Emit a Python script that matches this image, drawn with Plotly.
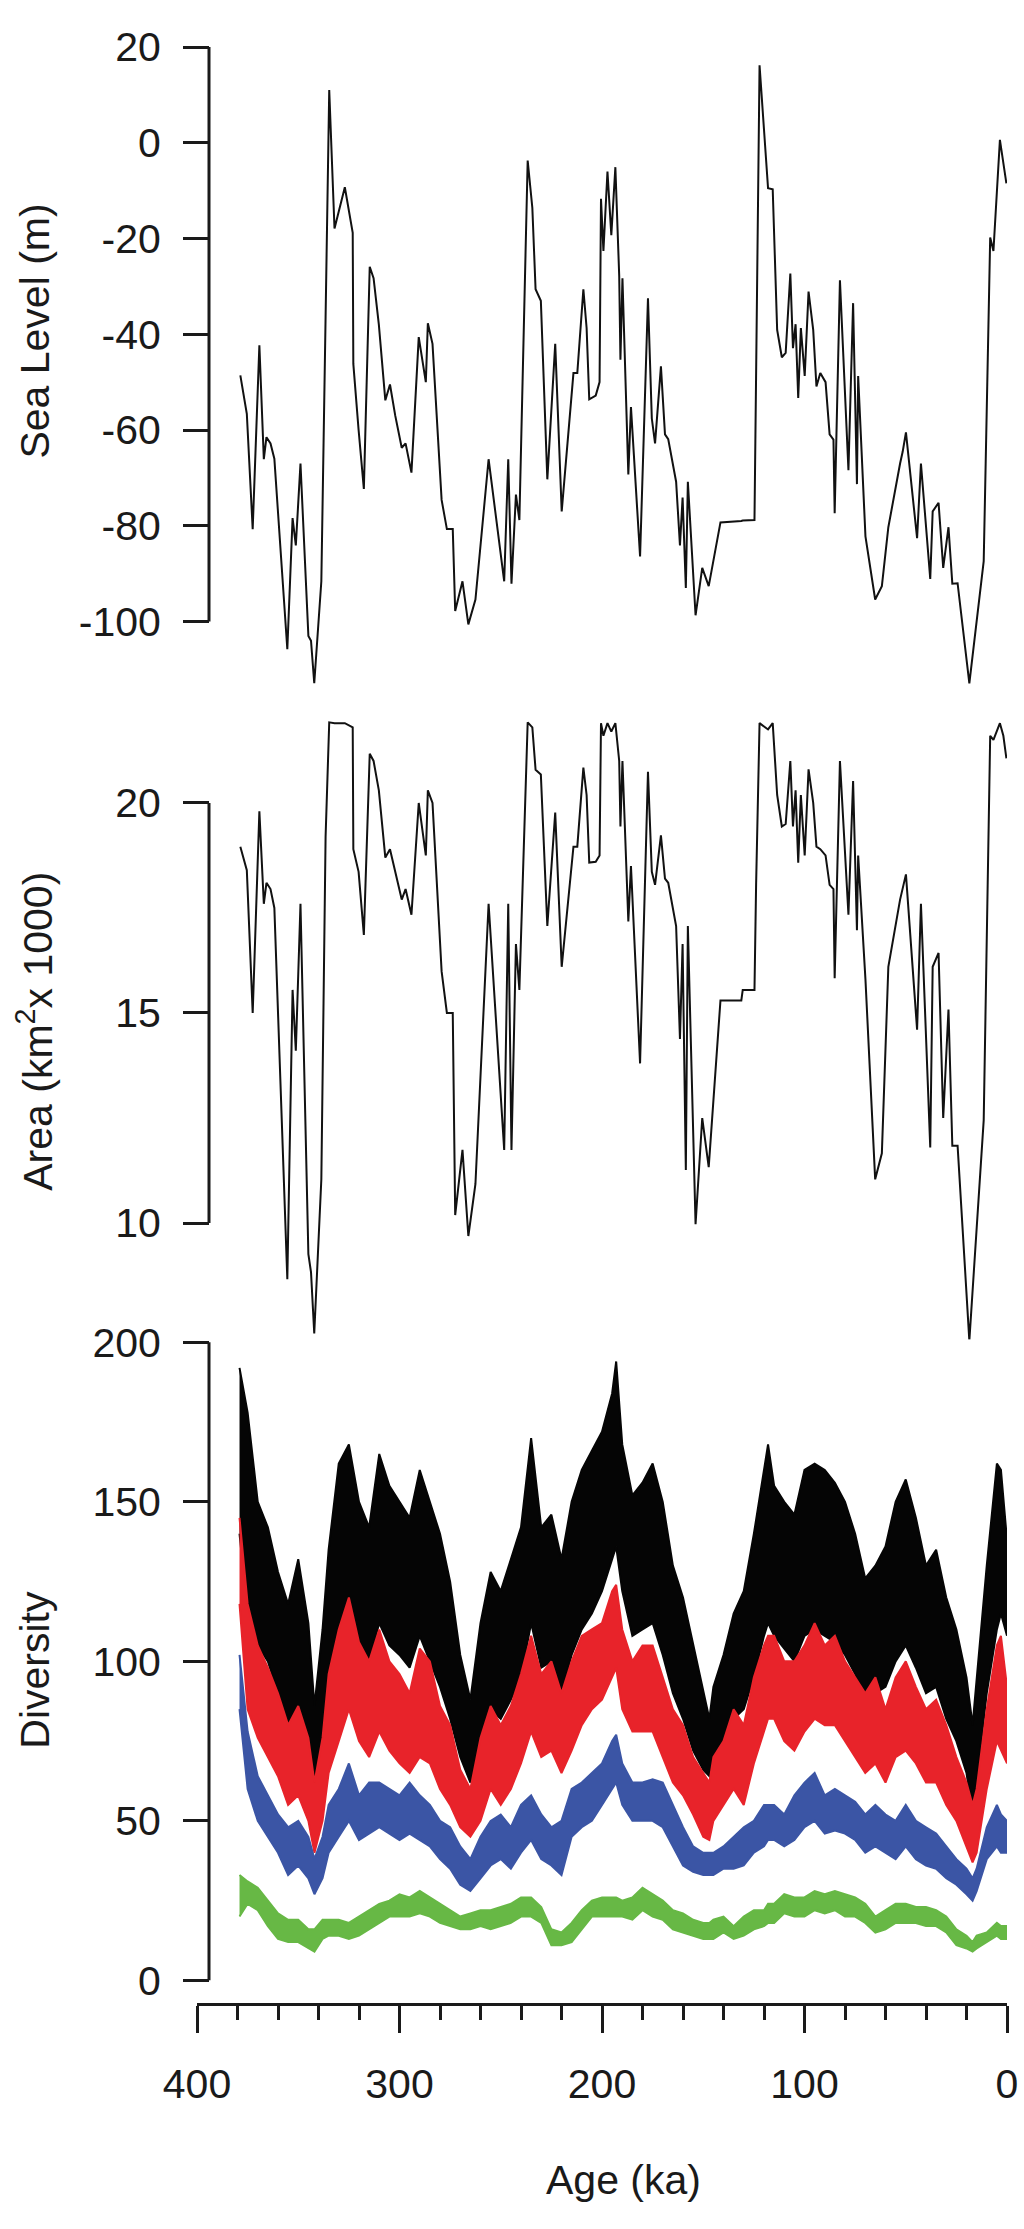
import plotly.graph_objects as go

# ---------------- data ----------------
age_sl = [378.6, 375.4, 372.5, 369.2, 367.0, 365.7, 363.7, 361.8, 355.4, 352.8, 351.2, 348.9,
          345.0, 343.7, 342.1, 338.6, 336.5, 334.7, 332.1, 327.0, 323.1, 322.8, 320.2, 317.6,
          314.7, 312.8, 310.2, 307.0, 304.7, 302.1, 298.9, 297.0, 294.1, 290.5, 287.0, 286.0,
          283.7, 279.2, 276.6, 273.7, 272.5, 268.9, 266.0, 262.5, 256.0, 248.3, 246.3, 244.7,
          242.5, 240.8, 236.7, 234.4, 232.8, 230.2, 227.0, 223.1, 219.9, 214.1, 212.2, 209.2,
          207.6, 206.3, 203.1, 201.2, 200.5, 199.3, 197.3, 195.4, 193.4, 191.5, 190.9, 189.9,
          187.0, 185.7, 181.2, 177.3, 175.4, 173.8, 170.9, 168.9, 167.3, 163.4, 161.5, 160.2,
          158.6, 157.6, 153.8, 150.5, 147.3, 141.5, 131.2, 130.5, 124.7, 123.9, 122.2, 118.0,
          115.7, 113.5, 111.2, 109.3, 107.0, 105.7, 104.4, 103.1, 101.8, 99.9, 98.0, 95.7,
          94.1, 92.2, 89.6, 87.6, 85.7, 85.1, 82.5, 78.3, 76.0, 74.1, 73.5, 69.9, 65.1, 61.8,
          58.6, 52.8, 51.5, 49.9, 44.4, 42.5, 37.9, 36.7, 33.8, 31.5, 28.9, 27.0, 24.4, 18.6,
          11.5, 8.3, 6.7, 3.5, 1.8, 0.3]

sea_level = [-48.6, -56.6, -80.7, -42.3, -66.1, -61.5, -62.8, -66.0, -105.8, -78.4, -84.1, -67.0,
             -103.0, -104.0, -112.9, -91.6, -36.4, 11.0, -17.9, -9.3, -18.8, -46.2, -60.0, -72.3,
             -25.9, -28.3, -38.0, -53.8, -50.5, -57.0, -63.7, -62.8, -68.9, -40.6, -50.0, -37.7,
             -42.0, -74.6, -80.7, -80.7, -97.8, -91.6, -100.6, -95.4, -66.1, -91.6, -66.1, -92.1,
             -73.5, -78.8, -3.7, -13.6, -30.6, -33.0, -70.3, -42.0, -77.0, -48.1, -48.1, -30.6,
             -38.7, -53.6, -52.8, -50.0, -11.7, -22.6, -6.0, -19.3, -5.1, -27.8, -45.3, -28.3,
             -69.3, -55.2, -86.4, -32.5, -57.6, -62.8, -46.7, -60.9, -61.9, -70.8, -84.1, -74.1,
             -93.0, -70.8, -98.7, -88.8, -92.6, -79.3, -79.0, -78.9, -78.8, -48.0, 16.2, -9.5,
             -9.7, -39.1, -44.8, -43.9, -27.3, -42.9, -37.9, -53.3, -38.7, -48.7, -31.1, -39.1,
             -50.9, -48.1, -50.0, -60.9, -62.0, -77.4, -28.7, -68.4, -33.5, -71.3, -48.7, -82.2,
             -95.4, -92.6, -80.3, -67.0, -64.5, -60.5, -82.6, -67.0, -91.1, -77.0, -75.2, -88.8,
             -80.3, -92.1, -92.0, -112.9, -87.4, -19.8, -22.6, 0.6, -4.6, -8.5]

area = [18.96, 18.4, 15.0, 19.8, 17.6, 18.1, 17.95, 17.5, 8.66, 15.55, 14.1, 17.6,
        9.26, 8.83, 7.37, 11.04, 19.2, 21.92, 21.9, 21.9, 21.8, 18.9, 18.36, 16.86,
        21.17, 21.0, 20.3, 18.7, 18.9, 18.36, 17.7, 17.95, 17.34, 20.0, 18.75, 20.3,
        20.0, 15.99, 15.0, 15.0, 10.19, 11.74, 9.69, 10.93, 17.6, 11.74, 17.6, 11.74,
        16.64, 15.55, 21.92, 21.8, 20.79, 20.68, 17.07, 19.77, 16.1, 18.96, 18.96, 20.84,
        20.19, 18.58, 18.6, 18.75, 21.9, 21.6, 21.9, 21.7, 21.9, 21.0, 19.44, 21.0,
        17.18, 18.5, 13.8, 20.74, 18.36, 18.05, 19.23, 18.2, 18.1, 17.07, 14.38, 16.64,
        11.26, 17.07, 9.97, 12.5, 11.33, 15.3, 15.3, 15.55, 15.55, 18.05, 21.9, 21.75,
        21.9, 20.19, 19.44, 19.5, 21.0, 19.44, 20.3, 18.58, 20.19, 18.75, 20.8, 20.0,
        18.96, 18.9, 18.75, 18.05, 17.95, 15.83, 21.0, 17.34, 20.52, 16.97, 18.75, 15.8,
        11.04, 11.66, 16.1, 17.7, 17.95, 18.3, 14.6, 17.6, 11.8, 16.1, 16.43, 12.5,
        15.08, 11.84, 11.84, 7.2, 12.45, 21.6, 21.5, 21.9, 21.6, 21.06]

div_age = [379, 375, 370, 365, 360, 355, 350, 345, 342, 338,
           335, 330, 325, 320, 315, 310, 305, 300, 295, 290,
           285, 280, 275, 270, 265, 260, 255, 250, 245, 240,
           235, 230, 225, 220, 215, 210, 205, 200, 195, 193,
           190, 185, 180, 175, 170, 165, 160, 155, 150, 147,
           145, 140, 135, 130, 125, 120, 118, 115, 110, 105,
           100, 95, 90, 85, 80, 75, 70, 65, 60, 55,
           50, 45, 40, 35, 30, 25, 20, 17, 15, 10,
           5, 3, 0]

black_hi = [192, 178, 150, 142, 128, 118, 132, 112, 86, 110,
            135, 162, 168, 150, 142, 165, 155, 150, 145, 160,
            150, 140, 125, 102, 88, 112, 128, 122, 132, 142,
            170, 142, 146, 132, 150, 160, 166, 172, 184, 194,
            168, 152, 156, 162, 150, 130, 120, 105, 90, 82,
            92, 102, 115, 122, 140, 160, 168, 155, 150, 146,
            160, 162, 160, 156, 150, 140, 126, 130, 136, 150,
            157, 145, 130, 135, 120, 110, 95, 80, 95, 130,
            162, 160, 138]
black_lo = [140, 115, 105, 100, 90, 78, 85, 72, 58, 70,
            95, 110, 115, 105, 100, 112, 105, 102, 98, 108,
            100, 92, 82, 70, 62, 75, 85, 82, 88, 95,
            112, 98, 100, 90, 102, 110, 115, 122, 132, 136,
            122, 108, 110, 112, 102, 90, 82, 72, 66, 64,
            68, 72, 82, 85, 95, 108, 112, 108, 104, 100,
            108, 110, 108, 106, 102, 96, 88, 90, 92, 100,
            105, 98, 90, 92, 82, 75, 65, 52, 62, 90,
            110, 115, 108]
red_hi = [145, 118, 105, 98, 90, 80, 86, 76, 62, 76,
          96, 110, 120, 106, 100, 110, 100, 96, 90, 104,
          100, 86, 80, 66, 60, 76, 86, 80, 86, 96,
          108, 96, 100, 90, 100, 108, 110, 112, 122, 124,
          110, 100, 105, 105, 95, 85, 80, 70, 65, 62,
          70, 75, 85, 80, 95, 105, 108, 108, 100, 100,
          105, 112, 105, 108, 100, 95, 90, 95, 85, 95,
          100, 92, 85, 88, 80, 70, 62, 55, 60, 85,
          105, 108, 92]
red_lo = [118, 85, 76, 70, 64, 55, 58, 50, 40, 50,
          65, 75, 85, 75, 70, 78, 72, 68, 65, 70,
          68, 60, 55, 48, 45, 50, 60, 55, 60, 68,
          78, 70, 72, 65, 72, 80, 85, 88, 95, 98,
          85, 78, 78, 78, 70, 62, 58, 52, 45, 44,
          50, 55, 60, 55, 68, 78, 82, 82, 75, 72,
          78, 82, 80, 80, 75, 70, 65, 68, 62, 70,
          72, 68, 62, 62, 55, 50, 42, 37, 40, 60,
          75, 72, 68]
blue_hi = [102, 78, 64, 58, 52, 48, 50, 45, 38, 45,
           55, 60, 68, 58, 62, 62, 60, 58, 62, 58,
           55, 50, 48, 42, 38, 45, 50, 52, 48, 55,
           58, 52, 48, 50, 60, 62, 65, 68, 75, 77,
           68, 62, 62, 63, 62, 55, 48, 42, 40, 40,
           40, 42, 45, 48, 50, 55, 55, 55, 52, 58,
           62, 65, 58, 60, 58, 56, 52, 55, 52, 50,
           55, 50, 48, 46, 42, 38, 35, 32, 35, 48,
           55, 52, 50]
blue_lo = [85, 60, 50, 45, 40, 33, 36, 32, 27, 32,
           40, 45, 50, 44, 46, 48, 46, 44, 46, 44,
           42, 38, 35, 30, 28, 32, 36, 38, 35, 40,
           44, 38, 36, 33, 45, 48, 50, 55, 60, 62,
           55, 50, 50, 50, 48, 42, 36, 34, 33, 33,
           33, 35, 35, 36, 40, 42, 44, 44, 42, 44,
           48, 50, 46, 47, 46, 44, 40, 42, 40, 38,
           42, 38, 36, 35, 32, 30, 27, 25, 28, 38,
           42, 40, 40]
green_hi = [33, 31, 29, 25, 21, 19, 19, 16, 16, 19,
            19, 19, 18, 20, 22, 24, 25, 27, 26, 28,
            26, 24, 22, 20, 21, 22, 22, 23, 24, 26,
            26, 23, 16, 15, 18, 22, 25, 26, 26, 26,
            25, 26, 29, 27, 25, 22, 21, 19, 18, 18,
            19, 20, 17, 20, 22, 22, 24, 24, 27, 26,
            26, 28, 27, 28, 27, 26, 24, 20, 22, 24,
            24, 23, 23, 22, 20, 16, 14, 12, 14, 15,
            18, 17, 17]
green_lo = [20, 24, 22, 17, 13, 12, 12, 10, 9, 13,
            14, 14, 13, 14, 16, 18, 20, 20, 20, 21,
            20, 18, 17, 16, 16, 17, 16, 17, 18, 20,
            20, 18, 11, 11, 12, 16, 20, 20, 20, 20,
            20, 19, 22, 20, 19, 16, 15, 14, 13, 13,
            13, 15, 13, 14, 16, 17, 18, 18, 21, 20,
            20, 22, 21, 22, 20, 20, 18, 15, 16, 18,
            18, 18, 17, 17, 15, 11, 10, 9, 10, 12,
            14, 13, 13]

x_ticks = [400, 300, 200, 100, 0]
sl_ticks = [-100, -80, -60, -40, -20, 0, 20]
sl_ticktext = ["-100", "-80", "-60", "-40", "-20", "0", "20"]
area_ticks = [10, 15, 20]
div_ticks = [0, 50, 100, 150, 200]

# ---------------- layout helpers ----------------
W, H = 1024, 2229
L, R = 197, 17
FONT = "Liberation Sans, Arial, Helvetica, sans-serif"
FS = 41
TXT = "#1a1a1a"


def py(px):
    return 1 - px / H


def yrange(v1, p1, v2, p2, top_px, bot_px):
    k = (v1 - v2) / (p2 - p1)
    return [v2 - (bot_px - p2) * k, v1 + (p1 - top_px) * k]


axis_x = (209 - L) / (W - L - R)

fig = go.Figure()

fig.add_trace(go.Scatter(x=age_sl, y=sea_level, mode="lines", xaxis="x", yaxis="y",
                         line=dict(color="#111111", width=2), showlegend=False))
fig.add_trace(go.Scatter(x=age_sl, y=area, mode="lines", xaxis="x", yaxis="y2",
                         line=dict(color="#111111", width=2), showlegend=False))

bands = [(black_lo, black_hi, "#050505"), (red_lo, red_hi, "#e8232a"),
         (blue_lo, blue_hi, "#3b55a5"), (green_lo, green_hi, "#67b845")]
for lo, hi, col in bands:
    fig.add_trace(go.Scatter(x=div_age, y=lo, mode="lines", xaxis="x", yaxis="y3",
                             line=dict(color=col, width=2), showlegend=False))
    fig.add_trace(go.Scatter(x=div_age, y=hi, mode="lines", xaxis="x", yaxis="y3",
                             line=dict(color=col, width=2), fill="tonexty",
                             fillcolor=col, showlegend=False))

yax_common = dict(anchor="free", position=axis_x, showline=False, showgrid=False,
                  zeroline=False, ticks="outside", ticklen=26, tickwidth=3,
                  tickcolor=TXT, tickfont=dict(family=FONT, size=FS, color=TXT),
                  ticklabelstandoff=14, ticklabeloverflow="allow")

fig.update_layout(
    width=W, height=H,
    margin=dict(l=L, r=R, t=0, b=0),
    paper_bgcolor="white", plot_bgcolor="white",
    showlegend=False,
    xaxis=dict(domain=[0, 1], range=[400, 0], anchor="free", position=py(2012),
               showline=True, linewidth=3, linecolor=TXT, showgrid=False, zeroline=False,
               tickvals=x_ticks, ticks="outside", ticklen=27, tickwidth=3, tickcolor=TXT,
               tickfont=dict(family=FONT, size=FS, color=TXT), ticklabelstandoff=16,
               ticklabeloverflow="allow",
               minor=dict(dtick=20, ticks="outside", ticklen=14, tickwidth=2.5,
                          tickcolor=TXT, showgrid=False)),
    yaxis=dict(domain=[py(690), py(10)], range=yrange(20, 27.4, -100, 610, 10, 690),
               tickvals=sl_ticks, ticktext=sl_ticktext, **yax_common),
    yaxis2=dict(domain=[py(1340), py(700)], range=yrange(20, 794, 10, 1220, 700, 1340),
                tickvals=area_ticks, **yax_common),
    yaxis3=dict(domain=[py(2000), py(1338)], range=yrange(200, 1341, 0, 1988, 1338, 2000),
                tickvals=div_ticks, **yax_common),
)

# axis lines spanning only the labelled range (base-R style)
for yref, lo, hi in [("y", -100, 20), ("y2", 10, 20), ("y3", 0, 200)]:
    fig.add_shape(type="line", xref="paper", yref=yref, x0=axis_x, x1=axis_x, y0=lo, y1=hi,
                  line=dict(color=TXT, width=3))


def px_x(px):
    return (px - L) / (W - L - R)


labels = [("Sea Level (m)", 35, 316, -90), ("Area (km<sup>2</sup>x 1000)", 35, 1026, -90),
          ("Diversity", 35, 1673, -90), ("Age (ka)", 623, 2190, 0)]
for text, xp, ypx, ang in labels:
    fig.add_annotation(text=text, xref="paper", yref="paper", x=px_x(xp), y=py(ypx),
                       xanchor="center", yanchor="middle", showarrow=False, textangle=ang,
                       font=dict(family=FONT, size=FS, color=TXT))

fig.write_html("out.html",
               config={"displayModeBar": False},
               post_script="document.body.style.margin='0';"
                           "document.body.style.overflow='hidden';")
